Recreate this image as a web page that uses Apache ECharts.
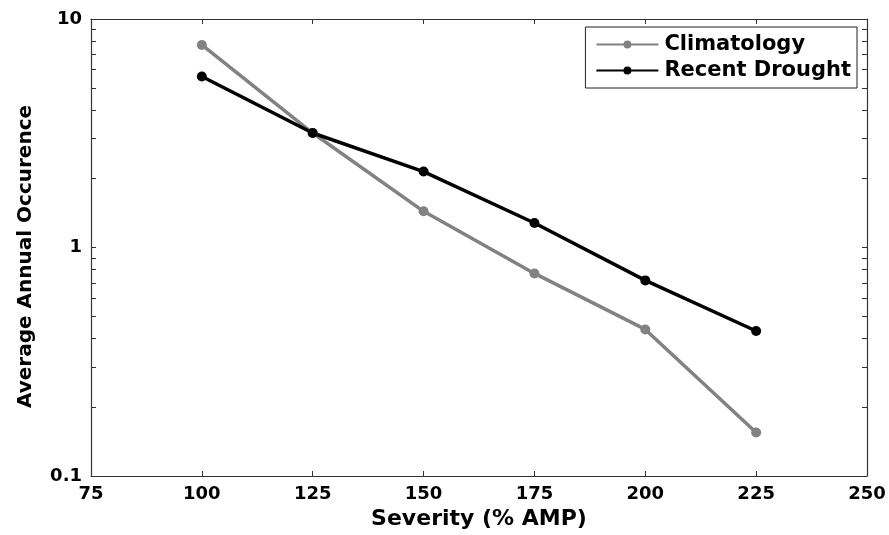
<!DOCTYPE html>
<html>
<head>
<meta charset="utf-8">
<script src="https://cdn.jsdelivr.net/npm/echarts@6/dist/echarts.min.js"></script>
<style>
  html, body { margin: 0; padding: 0; background: #fff; }
  #chart { width: 889px; height: 535px; }
</style>
</head>
<body>
<div id="chart"></div>
<script>
// Severity levels (% of annual maximum precipitation)
const severity = [100, 125, 150, 175, 200, 225];
// Average number of occurrences per year
const climatology = [7.70, 3.17, 1.44, 0.77, 0.438, 0.155];
const recentDrought = [5.60, 3.17, 2.15, 1.28, 0.718, 0.431];
// Tick positions on the log axis (decades plus intermediate steps)
const logTicks = [0.1, 0.2, 0.3, 0.4, 0.5, 0.6, 0.7, 0.8, 0.9,
                  1, 2, 3, 4, 5, 6, 7, 8, 9, 10];
const yLabels = [0.1, 1, 10];

const FONT = 'DejaVu Sans, Arial, sans-serif';
const frameColor = '#333';

const pairs = arr => severity.map((s, i) => [s, arr[i]]);

const chart = echarts.init(document.getElementById('chart'), null, { renderer: 'canvas' });

const tickStyle = { show: true, inside: true, length: 5, lineStyle: { color: frameColor, width: 1 } };

chart.setOption({
  animation: false,
  backgroundColor: '#fff',
  grid: { left: 91, right: 22, top: 19, bottom: 58 },
  legend: {
    right: 32, top: 27,
    orient: 'vertical',
    itemWidth: 62, itemHeight: 10,
    itemGap: 5,
    padding: [7, 6, 7, 10],
    borderColor: '#222', borderWidth: 1,
    backgroundColor: '#fff',
    textStyle: { fontFamily: FONT, fontWeight: 'bold', fontSize: 21, color: '#000', padding: [0, 0, 0, 1] },
    data: ['Climatology', 'Recent Drought']
  },
  xAxis: [{
    type: 'value', min: 75, max: 250, interval: 25,
    name: 'Severity (% AMP)', nameLocation: 'middle', nameGap: 32,
    nameTextStyle: { fontFamily: FONT, fontWeight: 'bold', fontSize: 22, color: '#000' },
    axisLine: { show: true, onZero: false, lineStyle: { color: frameColor, width: 1.2 } },
    axisTick: tickStyle,
    axisLabel: { fontFamily: FONT, fontWeight: 'bold', fontSize: 18, color: '#000', margin: 9 },
    splitLine: { show: false }
  }, {
    type: 'value', min: 75, max: 250, interval: 25, position: 'top',
    axisLine: { show: true, onZero: false, lineStyle: { color: frameColor, width: 1.2 } },
    axisTick: tickStyle,
    axisLabel: { show: false },
    splitLine: { show: false }
  }],
  yAxis: [{
    type: 'log', logBase: 10, min: 0.1, max: 10,
    name: 'Average Annual Occurence', nameLocation: 'middle', nameGap: 55,
    nameTextStyle: { fontFamily: FONT, fontWeight: 'bold', fontSize: 20, color: '#000', padding: [0, 18, 0, 0] },
    axisLine: { show: true, onZero: false, lineStyle: { color: frameColor, width: 1.2 } },
    axisTick: Object.assign({}, tickStyle, { customValues: logTicks }),
    axisLabel: {
      fontFamily: FONT, fontWeight: 'bold', fontSize: 18, color: '#000', margin: 9,
      customValues: yLabels,
      formatter: v => String(v)
    },
    splitLine: { show: false }
  }, {
    type: 'log', logBase: 10, min: 0.1, max: 10, position: 'right',
    axisLine: { show: true, onZero: false, lineStyle: { color: frameColor, width: 1.2 } },
    axisTick: Object.assign({}, tickStyle, { customValues: logTicks }),
    axisLabel: { show: false },
    splitLine: { show: false }
  }],
  series: [{
    name: 'Climatology', type: 'line',
    data: pairs(climatology),
    color: '#828282',
    symbol: 'circle', symbolSize: 10,
    lineStyle: { width: 3.5, color: '#828282' },
    itemStyle: { color: '#828282' }
  }, {
    name: 'Recent Drought', type: 'line',
    data: pairs(recentDrought),
    color: '#000',
    symbol: 'circle', symbolSize: 10,
    lineStyle: { width: 3.5, color: '#000' },
    itemStyle: { color: '#000' }
  }]
});
</script>
</body>
</html>
